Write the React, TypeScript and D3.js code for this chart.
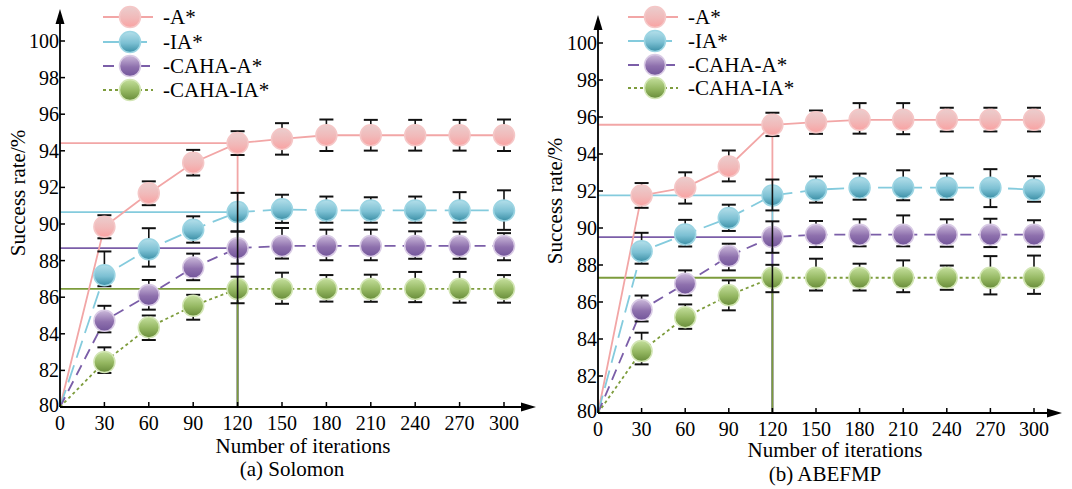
import React from 'react';
import * as d3 from 'd3';

const iterations = [0, 30, 60, 90, 120, 150, 180, 210, 240, 270, 300];
const xTickValues = [0, 30, 60, 90, 120, 150, 180, 210, 240, 270, 300];
const yTickValues = [80, 82, 84, 86, 88, 90, 92, 94, 96, 98, 100];
const seriesLabels = ['-A*', '-IA*', '-CAHA-A*', '-CAHA-IA*'];
const xAxisTitle = 'Number of iterations';
const yAxisTitle = 'Success rate/%';
const panelTitles = ['(a) Solomon', '(b) ABEFMP'];
const refIteration = 120;

// (a) Solomon
const solA = [80, 89.85, 91.68, 93.35, 94.42, 94.65, 94.85, 94.85, 94.85, 94.85, 94.85];
const solAPlus = [0, 0.63, 0.65, 0.7, 0.65, 0.86, 0.86, 0.84, 0.84, 0.84, 0.86];
const solAMinus = [0, 0.63, 0.65, 0.7, 0.65, 0.86, 0.86, 0.84, 0.84, 0.84, 0.86];
const solIA = [80, 87.2, 88.62, 89.69, 90.65, 90.8, 90.74, 90.74, 90.74, 90.74, 90.74];
const solIAPlus = [0, 1.3, 1.15, 0.73, 1.05, 0.8, 0.76, 0.72, 0.76, 1.0, 1.1];
const solIAMinus = [0, 0.6, 0.95, 0.71, 1.05, 0.74, 0.67, 0.67, 0.67, 0.67, 1.06];
const solCA = [80, 84.71, 86.12, 87.62, 88.68, 88.8, 88.8, 88.8, 88.8, 88.8, 88.8];
const solCAPlus = [0, 0.82, 0.82, 0.76, 0.9, 0.98, 0.89, 0.89, 0.8, 0.78, 0.7];
const solCAMinus = [0, 0.63, 0.8, 0.69, 0.85, 0.69, 0.78, 0.78, 0.7, 0.7, 0.78];
const solCIA = [80, 82.46, 84.35, 85.53, 86.45, 86.45, 86.45, 86.45, 86.45, 86.45, 86.45];
const solCIAPlus = [0, 0.8, 0.65, 0.6, 0.67, 0.89, 0.76, 0.78, 0.93, 0.93, 0.76];
const solCIAMinus = [0, 0.6, 0.69, 0.76, 0.78, 0.81, 0.69, 0.7, 0.72, 0.75, 0.75];

// (b) ABEFMP
const abeA = [80, 91.76, 92.18, 93.33, 95.58, 95.72, 95.85, 95.85, 95.85, 95.85, 95.85];
const abeAPlus = [0, 0.67, 0.83, 0.86, 0.65, 0.63, 0.9, 0.9, 0.65, 0.65, 0.65];
const abeAMinus = [0, 0.67, 0.86, 0.81, 0.61, 0.63, 0.75, 0.78, 0.63, 0.63, 0.63];
const abeIA = [80, 88.74, 89.65, 90.54, 91.76, 92.07, 92.18, 92.18, 92.18, 92.18, 92.07];
const abeIAPlus = [0, 1.0, 0.79, 0.72, 0.86, 0.72, 0.76, 0.94, 0.76, 1.0, 0.73];
const abeIAMinus = [0, 0.67, 0.65, 0.7, 0.81, 0.7, 0.65, 0.68, 0.65, 1.05, 0.65];
const abeCA = [80, 85.58, 86.99, 88.48, 89.51, 89.64, 89.64, 89.64, 89.64, 89.64, 89.64];
const abeCAPlus = [0, 0.77, 0.72, 0.67, 0.85, 0.74, 0.83, 1.04, 0.83, 0.86, 0.78];
const abeCAMinus = [0, 0.63, 0.63, 0.77, 0.85, 0.67, 0.63, 0.63, 0.65, 0.67, 0.65];
const abeCIA = [80, 83.35, 85.18, 86.36, 87.31, 87.31, 87.31, 87.31, 87.31, 87.31, 87.31];
const abeCIAPlus = [0, 0.99, 0.69, 0.81, 0.7, 1.03, 0.76, 0.94, 0.66, 1.17, 1.2];
const abeCIAMinus = [0, 0.72, 0.63, 0.81, 0.78, 0.69, 0.69, 0.78, 0.65, 0.9, 0.87];

type Series = { values: number[]; plus: number[]; minus: number[] };

const solomonSeries: Series[] = [
  { values: solA, plus: solAPlus, minus: solAMinus },
  { values: solIA, plus: solIAPlus, minus: solIAMinus },
  { values: solCA, plus: solCAPlus, minus: solCAMinus },
  { values: solCIA, plus: solCIAPlus, minus: solCIAMinus },
];
const abefmpSeries: Series[] = [
  { values: abeA, plus: abeAPlus, minus: abeAMinus },
  { values: abeIA, plus: abeIAPlus, minus: abeIAMinus },
  { values: abeCA, plus: abeCAPlus, minus: abeCAMinus },
  { values: abeCIA, plus: abeCIAPlus, minus: abeCIAMinus },
];

const STYLES = [
  { line: '#f2a6a6', dash: undefined as string | undefined, top: '#ebcdcd', mid: '#f1b9b9', bottom: '#f9a2a2', ring: '#f5c7c7' },
  { line: '#84cbdd', dash: '18,8', top: '#b4dfea', mid: '#7cc0d3', bottom: '#3b8fa6', ring: '#9cd5e3' },
  { line: '#7b5ea8', dash: '11,7', top: '#cbb9da', mid: '#8e70ad', bottom: '#72559a', ring: '#d9cbe5' },
  { line: '#7d9c3c', dash: '3,3', top: '#c4df9c', mid: '#93b660', bottom: '#688c3a', ring: '#d3e6b5' },
];

const FAMILY = '"Liberation Serif", "Tinos", "Times New Roman", serif';
const textStyle = { fontFamily: FAMILY, fontSize: '21px' } as React.CSSProperties;
const tickStyle = { fontFamily: FAMILY, fontSize: '20px' } as React.CSSProperties;

type PanelProps = {
  id: string;
  series: Series[];
  xRange: [number, number];
  yRange: [number, number];
  xArrowEnd: number;
  yArrowTop: number;
  legendX: number;
  legendYs: number[];
  yTitleX: number;
  yTitleY: number;
  xTitleX: number;
  xTitleY: number;
  title: string;
  titleX: number;
  titleY: number;
};

function Panel(p: PanelProps) {
  const x = d3.scaleLinear().domain([0, 300]).range(p.xRange);
  const y = d3.scaleLinear().domain([80, 100]).range(p.yRange);
  const x0 = x(0);
  const y0 = y(80);
  const refIdx = iterations.indexOf(refIteration);
  const line = d3
    .line<number>()
    .x((_, i) => x(iterations[i]))
    .y((v) => y(v));
  const r = 10.5;
  const cap = 7;

  const errBar = (s: Series, si: number, i: number) => {
    const cx = x(iterations[i]);
    const yt = y(s.values[i] + s.plus[i]);
    const yb = y(s.values[i] - s.minus[i]);
    return (
      <g key={`e${si}-${i}`} stroke="#111" fill="none">
        <line x1={cx} x2={cx} y1={yt} y2={yb} strokeWidth={1.6} />
        <line x1={cx - cap} x2={cx + cap} y1={yt} y2={yt} strokeWidth={2} />
        <line x1={cx - cap} x2={cx + cap} y1={yb} y2={yb} strokeWidth={2} />
      </g>
    );
  };

  return (
    <g>
      <defs>
        {STYLES.map((st, k) => (
          <linearGradient key={k} id={`${p.id}-g${k}`} x1="0" y1="0" x2="0" y2="1">
            <stop offset="0%" stopColor={st.top} />
            <stop offset="55%" stopColor={st.mid} />
            <stop offset="100%" stopColor={st.bottom} />
          </linearGradient>
        ))}
      </defs>

      {p.series.map((s, si) => {
        const v = s.values[refIdx];
        return (
          <g key={`ref${si}`} stroke={STYLES[si].line} strokeWidth={1.8}>
            <line x1={x0} x2={x(refIteration)} y1={y(v)} y2={y(v)} />
            <line x1={x(refIteration)} x2={x(refIteration)} y1={y(v)} y2={y0} />
          </g>
        );
      })}

      {p.series.map((s, si) => (
        <path
          key={`l${si}`}
          d={line(s.values) || ''}
          fill="none"
          stroke={STYLES[si].line}
          strokeWidth={1.8}
          strokeDasharray={STYLES[si].dash}
        />
      ))}

      {p.series.map((s, si) =>
        s.values.map((_, i) => (i === 0 || (i === refIdx && si > 0) ? null : errBar(s, si, i)))
      )}

      {p.series.map((s, si) =>
        s.values.map((v, i) =>
          i === 0 ? null : (
            <circle
              key={`c${si}-${i}`}
              cx={x(iterations[i])}
              cy={y(v)}
              r={r}
              fill={`url(#${p.id}-g${si})`}
              stroke={STYLES[si].ring}
              strokeWidth={1.5}
            />
          )
        )
      )}

      {p.series.map((s, si) => (si > 0 ? errBar(s, si, refIdx) : null))}

      <g stroke="#000" strokeWidth={1.8}>
        <line x1={x0} x2={x0} y1={y0} y2={p.yArrowTop + 12} />
        <line x1={x0} x2={p.xArrowEnd - 12} y1={y0} y2={y0} />
      </g>
      <path
        d={`M${x0},${p.yArrowTop} L${x0 - 4.5},${p.yArrowTop + 15} L${x0 + 4.5},${p.yArrowTop + 15} Z`}
        fill="#000"
      />
      <path
        d={`M${p.xArrowEnd},${y0} L${p.xArrowEnd - 15},${y0 - 4.5} L${p.xArrowEnd - 15},${y0 + 4.5} Z`}
        fill="#000"
      />
      {yTickValues.map((t) => (
        <g key={`yt${t}`}>
          {t !== 80 && <line x1={x0} x2={x0 + 5} y1={y(t)} y2={y(t)} stroke="#000" strokeWidth={1.5} />}
          <text x={x0 - 1} y={y(t) + (t === 80 ? 5 : 7)} textAnchor="end" style={tickStyle} fill="#000">
            {t}
          </text>
        </g>
      ))}
      {xTickValues.map((t) => (
        <g key={`xt${t}`}>
          {t !== 0 && <line x1={x(t)} x2={x(t)} y1={y0} y2={y0 - 5} stroke="#000" strokeWidth={1.5} />}
          <text x={x(t)} y={y0 + 23} textAnchor="middle" style={tickStyle} fill="#000">
            {t}
          </text>
        </g>
      ))}

      <text
        transform={`translate(${p.yTitleX},${p.yTitleY}) rotate(-90)`}
        textAnchor="middle"
        style={textStyle}
        fill="#000"
      >
        {yAxisTitle}
      </text>
      <text x={p.xTitleX} y={p.xTitleY} textAnchor="middle" style={textStyle} fill="#000">
        {xAxisTitle}
      </text>
      <text x={p.titleX} y={p.titleY} textAnchor="middle" style={textStyle} fill="#000">
        {p.title}
      </text>

      {seriesLabels.map((lab, si) => {
        const ly = p.legendYs[si];
        return (
          <g key={`lg${si}`}>
            <line
              x1={p.legendX - 27}
              x2={p.legendX + 23}
              y1={ly}
              y2={ly}
              stroke={STYLES[si].line}
              strokeWidth={1.8}
              strokeDasharray={STYLES[si].dash}
            />
            <circle
              cx={p.legendX}
              cy={ly}
              r={r}
              fill={`url(#${p.id}-g${si})`}
              stroke={STYLES[si].ring}
              strokeWidth={1.5}
            />
            <text x={p.legendX + 33} y={ly + 7} style={textStyle} fill="#000">
              {lab}
            </text>
          </g>
        );
      })}
    </g>
  );
}

export default function App() {
  return (
    <svg
      width={1072}
      height={489}
      viewBox="0 0 1072 489"
      style={{ position: 'absolute', left: 0, top: 0, display: 'block', background: '#fff' }}
    >
      <rect x={0} y={0} width={1072} height={489} fill="#fff" />
      <Panel
        id="pa"
        series={solomonSeries}
        xRange={[60, 504]}
        yRange={[407, 41]}
        xArrowEnd={536}
        yArrowTop={9}
        legendX={130}
        legendYs={[17, 42, 66, 90]}
        yTitleX={25}
        yTitleY={193}
        xTitleX={303}
        xTitleY={453}
        title={panelTitles[0]}
        titleX={292}
        titleY={476}
      />
      <Panel
        id="pb"
        series={abefmpSeries}
        xRange={[598, 1034]}
        yRange={[413, 43]}
        xArrowEnd={1062}
        yArrowTop={15}
        legendX={655}
        legendYs={[17, 41, 65, 88]}
        yTitleX={562}
        yTitleY={201}
        xTitleX={835}
        xTitleY={457}
        title={panelTitles[1]}
        titleX={825}
        titleY={481}
      />
    </svg>
  );
}
